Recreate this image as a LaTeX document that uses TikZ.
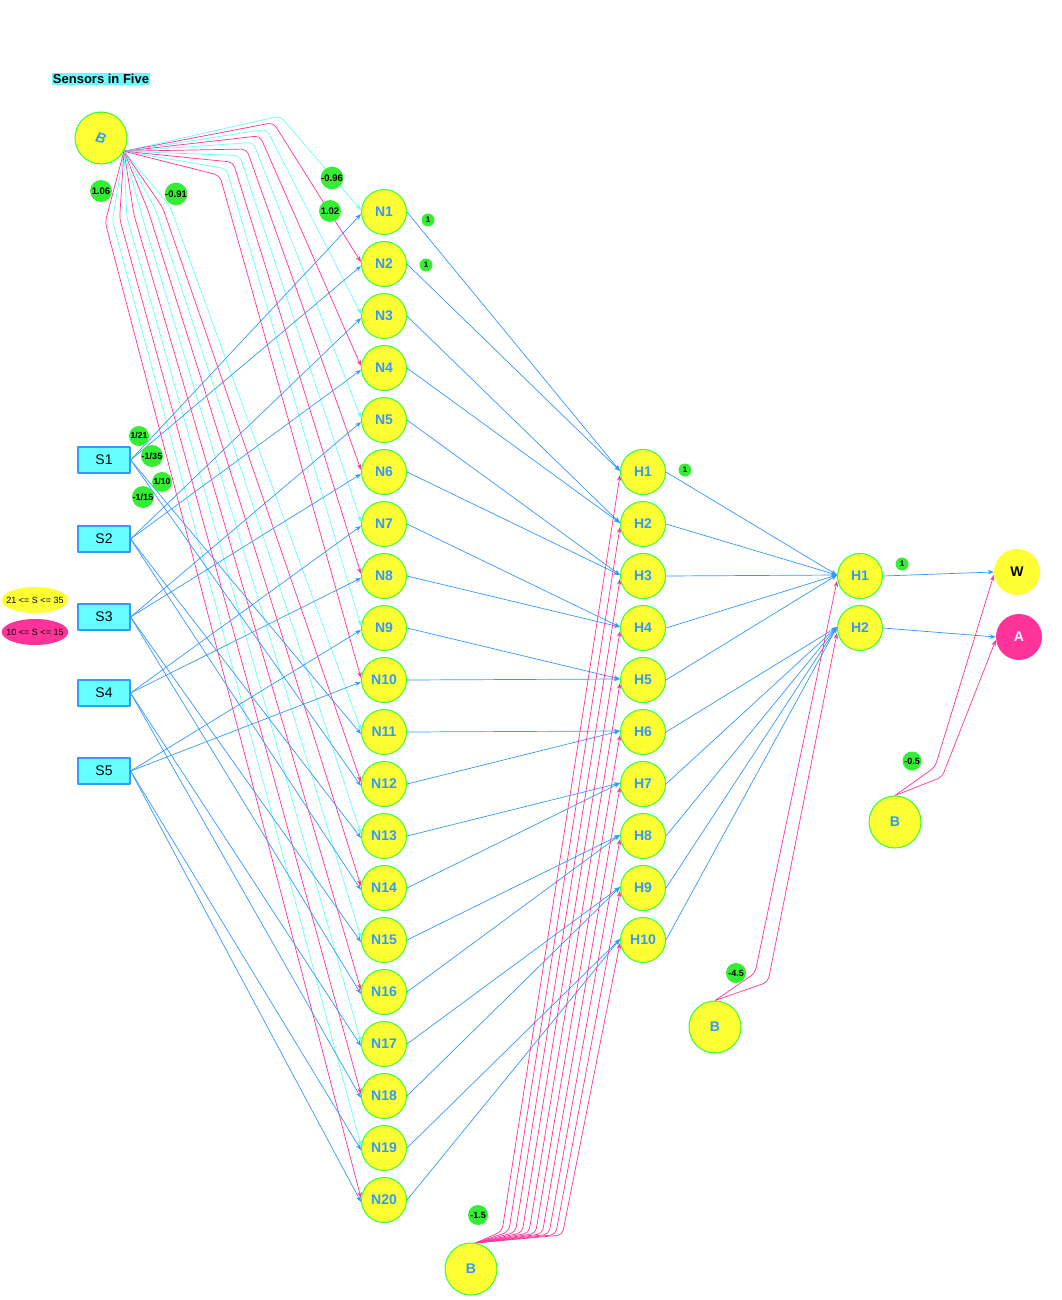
\documentclass[tikz,border=0pt]{standalone}
\usepackage{fontspec}
\setmainfont{Liberation Sans}
\usetikzlibrary{arrows.meta,shapes.geometric,backgrounds}
\definecolor{nyellow}{HTML}{FFFF33}
\definecolor{ngreen}{HTML}{33FF33}
\definecolor{wgreen}{HTML}{33EE33}
\definecolor{nblue}{HTML}{3399FF}
\definecolor{ncyan}{HTML}{66FFFF}
\definecolor{npink}{HTML}{FF3399}
\begin{document}
\begin{tikzpicture}[x=1pt, y=-1pt, line join=round, line cap=round, >={Stealth[length=6pt,width=4.5pt]},
  neuron/.style={circle, draw=ngreen, fill=nyellow, line width=1pt, minimum size=45pt, inner sep=0pt, text=nblue, font=\fontsize{14}{14}\selectfont\bfseries},
  bias/.style={neuron, minimum size=52pt},
  outnode/.style={circle, fill=#1, minimum size=46pt, inner sep=0pt, font=\fontsize{14}{14}\selectfont\bfseries},
  sensor/.style={draw=nblue, fill=ncyan, line width=1.2pt, minimum width=52pt, minimum height=26pt, inner sep=0pt, font=\fontsize{14}{14}\selectfont},
  weight/.style={circle, fill=wgreen, inner sep=0pt, minimum size=22pt, font=\fontsize{9.5}{9.5}\selectfont\bfseries},
  wsmall/.style={weight, minimum size=13pt, font=\fontsize{8}{8}\selectfont\bfseries},
  wmid/.style={weight, minimum size=20pt, font=\fontsize{9}{9}\selectfont\bfseries},
  legend/.style={ellipse, fill=#1, minimum width=66pt, minimum height=26pt, inner xsep=-5pt, inner ysep=0pt, font=\fontsize{9}{9}\selectfont},
  link/.style={->, line width=0.7pt, draw=#1},
  routed/.style={link=#1, rounded corners=5pt}]
\useasboundingbox (0,0) rectangle (1061,1300);

\node[fill=ncyan, inner sep=1pt, font=\fontsize{13}{13}\selectfont\bfseries] (title) at (101,79) {Sensors in Five};
\node[legend=nyellow] (leg1) at (35,600) {21 <= S <= 35};
\node[legend=npink] (leg2) at (35,632) {10 <= S <= 15};

\node[bias] (B) at (101,138) {\rotatebox{-15}{\itshape B}};
\foreach \i/\y in {1/460,2/539,3/617,4/693,5/771}
  \node[sensor] (S\i) at (104,\y) {S\i};
\foreach \k in {1,...,20}
  \node[neuron] (N\k) at (384,160+52*\k) {N\k};
\foreach \k in {1,...,10}
  \node[neuron] (H\k) at (643,420+52*\k) {H\k};
\node[neuron] (HH1) at (860,576) {H1};
\node[neuron] (HH2) at (860,628) {H2};
\node[outnode=nyellow] (W) at (1017,572) {W};
\node[outnode=npink, text=white] (A) at (1019,637) {A};
\node[bias] (BH) at (471,1269) {B};
\node[bias] (BHH) at (715,1027) {B};
\node[bias] (BO) at (895,822) {B};

\begin{scope}[on background layer]
\foreach \k in {1,...,10}{
  \ifodd\k\relax\def\col{ncyan}\else\def\col{npink}\fi
  \draw[routed=\col] (B.-30) -- (286.7-6.7*\k, 109.4+6.6*\k) -- ([yshift=2pt]N\k.west);
}
\foreach \j in {1,...,10}{
  \pgfmathtruncatemacro{\k}{10+\j}
  \ifodd\k\relax\def\col{ncyan}\else\def\col{npink}\fi
  \draw[routed=\col] (B.-30) -- (177.2-7.2*\j, 204.2+1.8*\j) -- ([yshift=2pt]N\k.west);
}
\foreach \i in {1,...,5}{
  \pgfmathtruncatemacro{\na}{2*\i-1}
  \pgfmathtruncatemacro{\nb}{2*\i}
  \pgfmathtruncatemacro{\nc}{2*\i+9}
  \pgfmathtruncatemacro{\nd}{2*\i+10}
  \foreach \n in {\na,\nb,\nc,\nd}
    \draw[link=nblue] (S\i.east) -- ([yshift=-2pt]N\n.west);
}
\foreach \k in {1,...,20}{
  \pgfmathtruncatemacro{\hk}{(\k+1)/2}
  \draw[link=nblue] (N\k.east) -- ([yshift=1pt]H\hk.west);
}
\foreach \k in {1,...,10}{
  \pgfmathtruncatemacro{\ok}{\k>5 ? 2 : 1}
  \draw[link=nblue] (H\k.east) -- ([yshift=1pt]HH\ok.west);
}
\foreach \k in {1,...,10}
  \draw[routed=npink] (BH.80) -- (495.3+6.7*\k, 1231+0.4*\k) -- ([yshift=-3pt]H\k.west);
\draw[routed=npink] (BHH.north) -- (755,973) -- ([yshift=-5pt]HH1.west);
\draw[routed=npink] (BHH.north) -- (768,982) -- ([yshift=-5pt]HH2.west);
\draw[routed=npink] (BO.north) -- (935,767) -- ([yshift=-3pt]W.west);
\draw[routed=npink] (BO.north) -- (942,777) -- ([yshift=-3pt]A.west);
\draw[link=nblue] (HH1.east) -- (W.west);
\draw[link=nblue] (HH2.east) -- (A.west);
\end{scope}

\node[weight] (w1) at (101,191) {1.06};
\node[weight] (w2) at (176,194) {-0.91};
\node[weight] (w3) at (332,178) {-0.96};
\node[weight] (w4) at (330,211) {1.02};
\node[wsmall] (w5) at (428,220) {1};
\node[wsmall] (w6) at (426,265) {1};
\node[wmid, font=\fontsize{8.5}{8.5}\selectfont\bfseries] (w7) at (139,436) {1/21};
\node[weight, font=\fontsize{9}{9}\selectfont\bfseries] (w8) at (152,456) {-1/35};
\node[wmid, font=\fontsize{8.5}{8.5}\selectfont\bfseries] (w9) at (162,482) {1/10};
\node[weight, font=\fontsize{9}{9}\selectfont\bfseries] (w10) at (143,497) {-1/15};
\node[wsmall] (w11) at (685,470) {1};
\node[wsmall] (w12) at (902,564) {1};
\node[wmid, minimum size=19pt] (w13) at (912,761) {-0.5};
\node[wmid] (w14) at (736,973) {-4.5};
\node[wmid] (w15) at (478,1215) {-1.5};
\end{tikzpicture}
\end{document}
